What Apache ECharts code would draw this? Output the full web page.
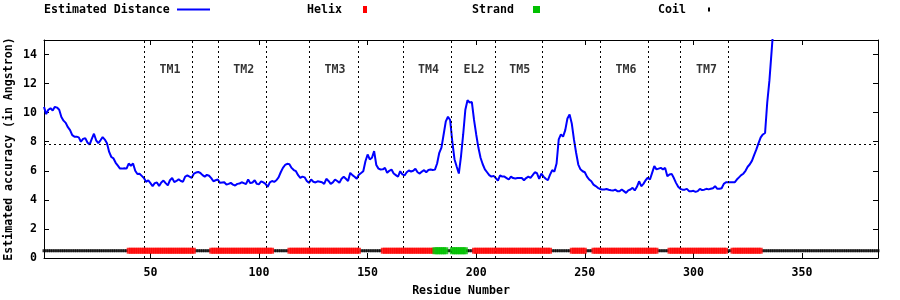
<!DOCTYPE html>
<html>
<head>
<meta charset="utf-8">
<script src="https://cdn.jsdelivr.net/npm/echarts/dist/echarts.min.js"></script>
<style>
html,body{margin:0;padding:0;background:#fff;}
#chart{width:900px;height:300px;}
</style>
</head>
<body>
<div id="chart"></div>
<script>
// ---- data ----
const distance = [
  10.4, 9.9, 10.2, 10.3, 10.15, 10.4, 10.35, 10.2, 9.7, 9.45,
  9.3, 9.0, 8.8, 8.45, 8.35, 8.35, 8.3, 8.0, 8.2, 8.25,
  7.95, 7.8, 8.2, 8.55, 8.1, 7.9, 8.1, 8.32, 8.15, 7.9,
  7.3, 6.95, 6.85, 6.55, 6.35, 6.15, 6.15, 6.18, 6.15, 6.5,
  6.35, 6.5, 6.0, 5.78, 5.8, 5.65, 5.5, 5.24, 5.35, 5.15,
  4.95, 5.15, 5.2, 4.95, 5.2, 5.33, 5.15, 5.0, 5.35, 5.5,
  5.22, 5.3, 5.42, 5.3, 5.25, 5.6, 5.68, 5.6, 5.52, 5.8,
  5.88, 5.92, 5.85, 5.7, 5.6, 5.72, 5.66, 5.5, 5.28, 5.35,
  5.4, 5.17, 5.2, 5.21, 5.05, 5.1, 5.17, 5.05, 4.99, 5.1,
  5.12, 5.21, 5.15, 5.08, 5.4, 5.15, 5.2, 5.35, 5.1, 5.08,
  5.28, 5.2, 5.1, 4.9, 5.2, 5.3, 5.24, 5.35, 5.55, 5.9,
  6.2, 6.4, 6.48, 6.45, 6.2, 6.05, 5.97, 5.7, 5.52, 5.6,
  5.55, 5.3, 5.17, 5.4, 5.25, 5.2, 5.28, 5.25, 5.21, 5.1,
  5.45, 5.3, 5.1, 5.2, 5.4, 5.3, 5.17, 5.45, 5.59, 5.45,
  5.3, 5.86, 5.7, 5.59, 5.45, 5.74, 5.85, 5.97, 6.66, 7.12,
  6.78, 6.9, 7.35, 6.4, 6.15, 6.09, 6.1, 6.2, 5.86, 6.0,
  6.09, 5.81, 5.7, 5.59, 5.97, 5.75, 5.68, 5.9, 6.02, 5.95,
  6.0, 6.14, 5.9, 5.81, 5.95, 6.04, 5.9, 6.05, 6.09, 6.05,
  6.08, 6.5, 7.24, 7.6, 8.5, 9.4, 9.72, 9.49, 8.0, 6.8,
  6.3, 5.81, 7.0, 8.5, 10.2, 10.85, 10.7, 10.73, 9.5, 8.5,
  7.6, 6.9, 6.45, 6.1, 5.9, 5.7, 5.6, 5.65, 5.5, 5.33,
  5.68, 5.6, 5.6, 5.5, 5.4, 5.6, 5.5, 5.47, 5.5, 5.5,
  5.5, 5.35, 5.5, 5.6, 5.52, 5.7, 5.9, 5.83, 5.45, 5.81,
  5.6, 5.45, 5.35, 5.74, 6.04, 5.95, 6.5, 8.16, 8.5, 8.35,
  8.8, 9.6, 9.88, 9.26, 8.16, 7.24, 6.43, 6.1, 5.97, 5.9,
  5.6, 5.4, 5.28, 5.05, 4.95, 4.83, 4.75, 4.71, 4.72, 4.75,
  4.7, 4.66, 4.64, 4.7, 4.6, 4.59, 4.71, 4.6, 4.48, 4.65,
  4.71, 4.83, 4.65, 4.9, 5.28, 4.94, 5.1, 5.35, 5.52, 5.4,
  5.86, 6.32, 6.1, 6.15, 6.2, 6.1, 6.2, 5.63, 5.75, 5.79,
  5.5, 5.17, 4.9, 4.76, 4.7, 4.7, 4.76, 4.6, 4.6, 4.62,
  4.55, 4.6, 4.76, 4.67, 4.7, 4.76, 4.72, 4.76, 4.8, 4.94,
  4.76, 4.76, 4.8, 5.1, 5.21, 5.21, 5.21, 5.21, 5.21, 5.4,
  5.55, 5.7, 5.8, 6.0, 6.28, 6.45, 6.7, 7.1, 7.47, 7.9,
  8.3, 8.5, 8.6, 10.7, 12.2, 14.2, 16.2, 18.5
];
const firstResidue = 1;
const lastResidue = 385;

const helixSegments = [[40,70],[78,106],[114,146],[157,180],[199,234],[244,250],[254,283],[289,315],[318,331]];
const strandSegments = [[181,186],[189,195]];
const coilSegments = [[1,39],[71,77],[107,113],[147,156],[187,188],[196,198],[235,243],[251,253],[284,288],[316,317],[332,385]];
const ssLevel = 0.5;

const regionBoundaries = [47.2, 69.3, 81.3, 103.3, 123.3, 145.6, 166.2, 188.5, 208.6, 230.2, 257, 279.4, 293.9, 316];
const regionLabels = ['TM1','TM2','TM3','TM4','EL2','TM5','TM6','TM7'];
const regionLabelX = [59, 93, 135, 178, 199, 220, 269, 306];
const regionLabelY = 13;
const thresholdLine = 7.86;

const xTicks = [50, 100, 150, 200, 250, 300, 350];
const yTicks = [0, 2, 4, 6, 8, 10, 12, 14];
const yMax = 15;

// ---- build ----
const FONT = 'DejaVu Sans Mono';
const FS = 11.6;
const lineData = distance.map((v, i) => [firstResidue + i, v]);
function expand(segs) {
  const pts = [];
  segs.forEach(([a, b]) => { for (let r = a; r <= b; r++) pts.push([r, ssLevel]); });
  return pts;
}
const dotted = { color: '#000', width: 1, type: [2, 3] };
const txt = { fontFamily: FONT, fontWeight: 'bold', fontSize: FS, color: '#000' };

const chart = echarts.init(document.getElementById('chart'), null, { renderer: 'canvas' });
chart.setOption({
  animation: false,
  backgroundColor: '#fff',
  grid: { left: 44, right: 22, top: 40, bottom: 42, containLabel: false, outerBoundsMode: 'none' },
  xAxis: [{
    type: 'value', min: firstResidue, max: lastResidue, position: 'bottom',
    name: 'Residue Number', nameLocation: 'middle', nameGap: 27, nameMoveOverlap: false,
    nameTextStyle: txt,
    axisLine: { show: true, onZero: false, lineStyle: { color: '#000', width: 1 } },
    axisTick: { show: true, inside: true, length: 5, customValues: xTicks, lineStyle: { color: '#000' } },
    axisLabel: { show: true, customValues: xTicks, margin: 9, ...txt },
    splitLine: { show: false }
  }, {
    type: 'value', min: firstResidue, max: lastResidue, position: 'top',
    axisLine: { show: true, onZero: false, lineStyle: { color: '#000', width: 1 } },
    axisTick: { show: true, inside: true, length: 5, customValues: xTicks, lineStyle: { color: '#000' } },
    axisLabel: { show: false },
    splitLine: { show: false }
  }],
  yAxis: [{
    type: 'value', min: 0, max: yMax, position: 'left',
    name: 'Estimated accuracy (in Angstron)', nameLocation: 'middle', nameGap: 29, nameRotate: 90,
    nameMoveOverlap: false,
    nameTextStyle: txt,
    axisLine: { show: true, onZero: false, lineStyle: { color: '#000', width: 1 } },
    axisTick: { show: true, inside: true, length: 5, customValues: yTicks, lineStyle: { color: '#000' } },
    axisLabel: { show: true, customValues: yTicks, margin: 7, ...txt },
    splitLine: { show: false }
  }, {
    type: 'value', min: 0, max: yMax, position: 'right',
    axisLine: { show: true, onZero: false, lineStyle: { color: '#000', width: 1 } },
    axisTick: { show: true, inside: true, length: 5, customValues: yTicks, lineStyle: { color: '#000' } },
    axisLabel: { show: false },
    splitLine: { show: false }
  }],
  series: [
    {
      name: 'Estimated Distance', type: 'line', data: lineData, showSymbol: false, symbol: 'none',
      lineStyle: { color: '#0000ff', width: 2 }, clip: true, z: 3,
      markLine: {
        silent: true, symbol: 'none', label: { show: false }, lineStyle: dotted,
        data: regionBoundaries.map(v => ({ xAxis: v })).concat([{ yAxis: thresholdLine }])
      }
    },
    {
      name: 'Coil', type: 'scatter', data: expand(coilSegments), symbol: 'rect', symbolSize: [3, 3],
      itemStyle: { color: '#000' }, z: 4
    },
    {
      name: 'Helix', type: 'scatter', data: expand(helixSegments), symbol: 'rect', symbolSize: [4, 6],
      itemStyle: { color: '#ff0000' }, z: 5
    },
    {
      name: 'Strand', type: 'scatter', data: expand(strandSegments), symbol: 'rect', symbolSize: [5, 7],
      itemStyle: { color: '#00c000' }, z: 5
    },
    {
      name: 'regions', type: 'scatter', symbolSize: 1,
      data: regionLabels.map((n, i) => ({ value: [regionLabelX[i], regionLabelY], name: n })),
      label: {
        show: true, position: 'top', distance: 0, offset: [0, 7], formatter: p => p.name,
        textBorderWidth: 0, ...txt
      },
      itemStyle: { color: 'rgba(255,255,255,0)' }, z: 6
    }
  ],
  graphic: [
    { type: 'text', left: 44, top: 4, style: { text: 'Estimated Distance', font: 'bold ' + FS + 'px ' + FONT, fill: '#000' } },
    { type: 'line', shape: { x1: 177, y1: 9.5, x2: 210, y2: 9.5 }, style: { stroke: '#0000ff', lineWidth: 2 } },
    { type: 'text', left: 307, top: 4, style: { text: 'Helix', font: 'bold ' + FS + 'px ' + FONT, fill: '#000' } },
    { type: 'rect', shape: { x: 363, y: 6, width: 4, height: 7 }, style: { fill: '#ff0000' } },
    { type: 'text', left: 472, top: 4, style: { text: 'Strand', font: 'bold ' + FS + 'px ' + FONT, fill: '#000' } },
    { type: 'rect', shape: { x: 533, y: 6, width: 7, height: 7 }, style: { fill: '#00c000' } },
    { type: 'text', left: 658, top: 4, style: { text: 'Coil', font: 'bold ' + FS + 'px ' + FONT, fill: '#000' } },
    { type: 'rect', shape: { x: 708, y: 7.5, width: 2, height: 4 }, style: { fill: '#000' } }
  ]
});
</script>
</body>
</html>
